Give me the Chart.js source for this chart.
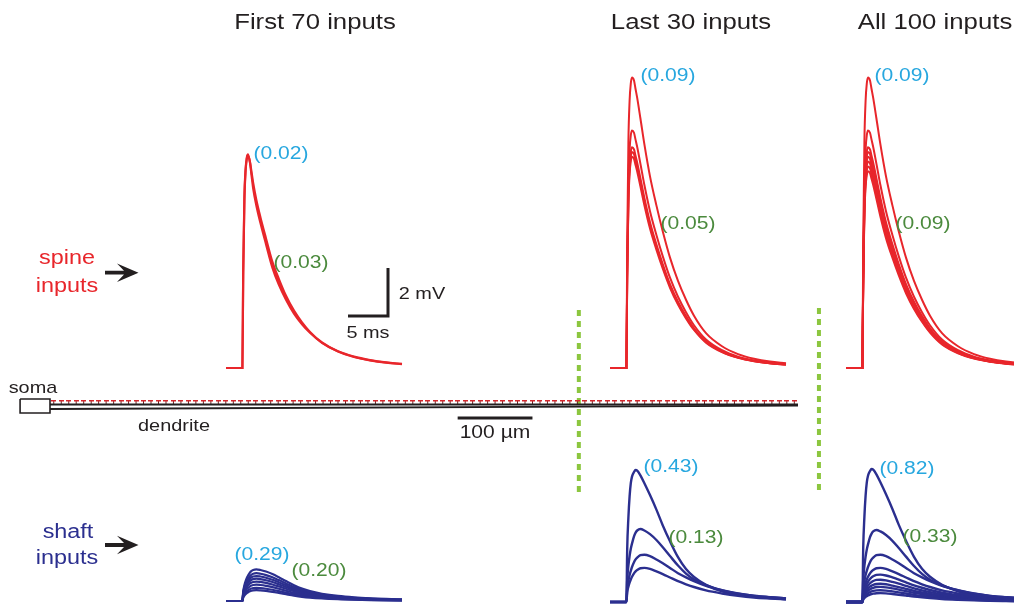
<!DOCTYPE html>
<html>
<head>
<meta charset="utf-8">
<script src="https://cdn.jsdelivr.net/npm/chart.js@4.4.1/dist/chart.umd.min.js"></script>
<style>
  html, body { margin: 0; padding: 0; background: #fff; overflow: hidden; }
  #fig { position: relative; width: 1014px; height: 605px; overflow: hidden;
         font-family: "Liberation Sans", Arial, Helvetica, sans-serif; }
  #fig canvas { position: absolute; }
  .t { position: absolute; white-space: nowrap; line-height: 1;
       transform: translate(-50%, -50%) scaleX(1.17); }
</style>
</head>
<body>
<div id="fig"></div>
<script>
// ---- EPSP waveforms (time in ms, shapes normalised to peak = 1) ----
const tMs = [0, 2.05, 2.15, 2.3, 2.45, 2.6, 2.75, 3.0, 3.2, 3.4, 3.8, 4.3, 5.0, 5.8, 6.6, 7.5, 8.5, 9.5, 10.5, 12, 14, 16, 18, 20, 22];

const spineShapeNarrow     = [0, 0, 0.45, 0.80, 0.93, 0.985, 1.0, 0.96, 0.90, 0.84, 0.76, 0.68, 0.58, 0.47, 0.39, 0.32, 0.255, 0.205, 0.165, 0.118, 0.078, 0.053, 0.037, 0.026, 0.019];
const spineShapeNarrowSlow = [0, 0, 0.44, 0.79, 0.93, 0.985, 1.0, 0.97, 0.92, 0.87, 0.79, 0.71, 0.61, 0.50, 0.42, 0.34, 0.27, 0.215, 0.17, 0.12, 0.078, 0.052, 0.036, 0.025, 0.018];
const spineShapeBroad      = [0, 0, 0.42, 0.78, 0.92, 0.98, 1.0, 0.99, 0.96, 0.93, 0.86, 0.77, 0.66, 0.56, 0.47, 0.38, 0.30, 0.235, 0.18, 0.12, 0.075, 0.048, 0.032, 0.022, 0.016];

const shaftShapeNear = [0, 0, 0.40, 0.64, 0.80, 0.90, 0.95, 0.985, 1.0, 0.995, 0.96, 0.90, 0.81, 0.70, 0.58, 0.46, 0.34, 0.25, 0.19, 0.13, 0.08, 0.055, 0.042, 0.03, 0.022];
const shaftShapeMid  = [0, 0, 0.30, 0.50, 0.63, 0.73, 0.80, 0.90, 0.95, 0.98, 1.0, 0.98, 0.93, 0.85, 0.75, 0.63, 0.50, 0.39, 0.31, 0.23, 0.16, 0.115, 0.085, 0.065, 0.05];
const shaftShapeFar  = [0, 0, 0.28, 0.45, 0.57, 0.66, 0.74, 0.84, 0.90, 0.94, 0.99, 1.0, 0.97, 0.90, 0.82, 0.72, 0.61, 0.52, 0.44, 0.34, 0.25, 0.18, 0.13, 0.10, 0.075];

// ---- somatic EPSP peaks (mV) ----
const spinePeaksFirst70 = [8.9, 8.85];
const spinePeaksLast30  = [12.1, 9.9, 9.2, 9.0, 8.8];
const spinePeaksAll100  = [12.1, 9.9, 9.2, 9.0, 8.8, 8.6, 8.4, 8.2];

const shaftPeaksFirst70 = [1.32, 1.16, 1.04, 0.93, 0.81, 0.68, 0.55, 0.45];
const shaftPeaksLast30  = [5.5, 3.04, 1.97, 1.42];
const shaftPeaksAll100  = [5.54, 3.0, 1.97, 1.42, 1.14, 0.93, 0.76, 0.63, 0.49, 0.37];

// ---- dendrite layout ----
const dendriteLenUm = 1000;
const spineCount = 100;
const spineStepUm = 10;
const spinePosUm = Array.from({ length: spineCount }, (_, i) => spineStepUm * (i + 0.5));
const groupBoundsUm = [707, 1028];
const scaleBarUm = [545, 645];

// ---- scale bar of the traces ----
const scaleBarMs = 5;
const scaleBarMv = 2;

const RED = '#e8262b', NAVY = '#2b2f8f', CYAN = '#27a7df', GREEN = '#4b8a3d', INK = '#231f20', LIME = '#8cc63f';
const PX_PER_MS = 8, PX_PER_MV = 24, T_MAX = 23;

const fig = document.getElementById('fig');

function trace(shape, peak) {
  return tMs.map((t, i) => ({ x: t, y: shape[i] * peak }));
}

const bareOptions = (xMin, xMax, yMin, yMax) => ({
  responsive: false, animation: false, devicePixelRatio: 1,
  layout: { padding: 0, autoPadding: false },
  plugins: { legend: { display: false }, tooltip: { enabled: false } },
  scales: {
    x: { type: 'linear', min: xMin, max: xMax, display: false },
    y: { type: 'linear', min: yMin, max: yMax, display: false }
  }
});

function traceChart(left, baseline, yMin, yMax, datasets) {
  const cv = document.createElement('canvas');
  cv.width = T_MAX * PX_PER_MS;
  cv.height = (yMax - yMin) * PX_PER_MV;
  cv.style.left = left + 'px';
  cv.style.top = (baseline - yMax * PX_PER_MV) + 'px';
  fig.appendChild(cv);
  const options = bareOptions(0, T_MAX, yMin, yMax);
  options.elements = {
    point: { radius: 0 },
    line: { borderWidth: 2, cubicInterpolationMode: 'monotone', fill: false }
  };
  new Chart(cv, { type: 'line', data: { datasets }, options });
}

function lines(peaks, shapeFor, color, width) {
  return peaks.map((p, i) => ({
    data: trace(shapeFor(i), p), borderColor: color, borderWidth: width
  })).reverse();
}

// spine inputs (top row)
const SPINE_BASE = 368;
traceChart(226, SPINE_BASE, -0.5, 13.5, [
  { data: trace(spineShapeNarrow, spinePeaksFirst70[0]), borderColor: RED, borderWidth: 2.2 },
  { data: trace(spineShapeNarrowSlow, spinePeaksFirst70[1]), borderColor: RED, borderWidth: 2.2,
    fill: '-1', backgroundColor: RED },
  // 5 ms / 2 mV scale bar
  { data: [{ x: 15.25, y: 2.17 }, { x: 15.25 + scaleBarMs, y: 2.17 }, { x: 15.25 + scaleBarMs, y: 2.17 + scaleBarMv }],
    borderColor: INK, borderWidth: 3, cubicInterpolationMode: 'default', tension: 0 }
]);
traceChart(610, SPINE_BASE, -0.5, 13.5, lines(spinePeaksLast30, () => spineShapeBroad, RED, 2));
traceChart(846, SPINE_BASE, -0.5, 13.5, lines(spinePeaksAll100, () => spineShapeBroad, RED, 2));

// shaft inputs (bottom row)
const shaftByRank = i => (i === 0 ? shaftShapeNear : i === 1 ? shaftShapeMid : shaftShapeFar);
traceChart(226, 601, -0.5, 6.5, lines(shaftPeaksFirst70, () => shaftShapeMid, NAVY, 2.2));
traceChart(610, 602, -0.5, 6.5, lines(shaftPeaksLast30, shaftByRank, NAVY, 2.4));
traceChart(846, 602, -0.5, 6.5, lines(shaftPeaksAll100, shaftByRank, NAVY, 2.4));

// ---- dendrite schematic ----
(function () {
  const pxPerUm = 0.748, originPx = 50;
  const cv = document.createElement('canvas');
  cv.width = 1014; cv.height = 205;
  cv.style.left = '0px'; cv.style.top = '300px';
  fig.appendChild(cv);

  const spineImg = document.createElement('canvas');
  spineImg.width = 5; spineImg.height = 5;
  const c = spineImg.getContext('2d');
  c.fillStyle = '#d4262c'; c.fillRect(0, 0, 5, 2);
  c.fillStyle = '#6e2020'; c.fillRect(2, 2, 1, 3);

  const xMin = -originPx / pxPerUm;
  const ln = (pts, color, w, dash) => ({
    type: 'line', data: pts, borderColor: color, borderWidth: w, borderDash: dash || [],
    pointRadius: 0, tension: 0, fill: false
  });
  new Chart(cv, {
    type: 'scatter',
    data: {
      datasets: [
        ln([{ x: -40, y: 1 }, { x: 0, y: 1 }, { x: 0, y: -13 }, { x: -40, y: -13 }, { x: -40, y: 1 }], INK, 1.6),
        ln([{ x: 0, y: -4.5 }, { x: dendriteLenUm, y: -4.5 }], INK, 1.9),
        ln([{ x: 0, y: -9 }, { x: dendriteLenUm, y: -5.6 }], INK, 1.9),
        { type: 'scatter', data: spinePosUm.map(u => ({ x: u, y: -2 })), pointStyle: spineImg,
          pointRadius: 3, showLine: false },
        ln([{ x: scaleBarUm[0], y: -18 }, { x: scaleBarUm[1], y: -18 }], INK, 3),
        ln([{ x: groupBoundsUm[0], y: 90 }, { x: groupBoundsUm[0], y: -97 }], LIME, 4, [6, 5]),
        ln([{ x: groupBoundsUm[1], y: 92 }, { x: groupBoundsUm[1], y: -95 }], LIME, 4, [6, 5])
      ]
    },
    options: bareOptions(xMin, xMin + 1014 / pxPerUm, -105, 100)
  });
})();

// ---- arrows ----
fig.insertAdjacentHTML('beforeend',
  '<svg width="1014" height="605" style="position:absolute;left:0;top:0">' +
  '<path d="M105,270.8 L124,270.8 L117,263.5 L138.5,272.7 L117,281.9 L124,274.6 L105,274.6 Z" fill="' + INK + '"/>' +
  '<path d="M105,543.1 L124,543.1 L117,535.8 L138.5,545 L117,554.2 L124,546.9 L105,546.9 Z" fill="' + INK + '"/>' +
  '</svg>');

// ---- text ----
function label(txt, cx, cy, size, color) {
  const d = document.createElement('div');
  d.className = 't';
  d.textContent = txt;
  d.style.left = cx + 'px';
  d.style.top = cy + 'px';
  d.style.fontSize = size + 'px';
  d.style.color = color;
  fig.appendChild(d);
}
label('First 70 inputs', 315, 22, 22, INK);
label('Last 30 inputs', 690.5, 22, 22, INK);
label('All 100 inputs', 934.5, 22, 22, INK);

label('spine', 66.5, 257, 20, RED);
label('inputs', 67, 285.3, 20, RED);
label('shaft', 67.5, 531.3, 20, NAVY);
label('inputs', 67, 557, 20, NAVY);

label('(0.02)', 280.8, 153.4, 18, CYAN);
label('(0.03)', 300.8, 261.7, 18, GREEN);
label('(0.09)', 667.5, 75, 18, CYAN);
label('(0.05)', 688.3, 223.4, 18, GREEN);
label('(0.09)', 901.7, 75, 18, CYAN);
label('(0.09)', 923, 223.4, 18, GREEN);

label('(0.29)', 261.7, 554.2, 18, CYAN);
label('(0.20)', 319.3, 570, 18, GREEN);
label('(0.43)', 670.7, 466, 18, CYAN);
label('(0.13)', 696.3, 536.5, 18, GREEN);
label('(0.82)', 907.3, 467.5, 18, CYAN);
label('(0.33)', 930, 536, 18, GREEN);

label('2 mV', 421.5, 293.4, 17, INK);
label('5 ms', 368, 332, 17, INK);

label('soma', 33, 386.8, 17, INK);
label('dendrite', 174, 424.7, 17, INK);
label('100 \u00b5m', 495, 432, 18, INK);
</script>
</body>
</html>
